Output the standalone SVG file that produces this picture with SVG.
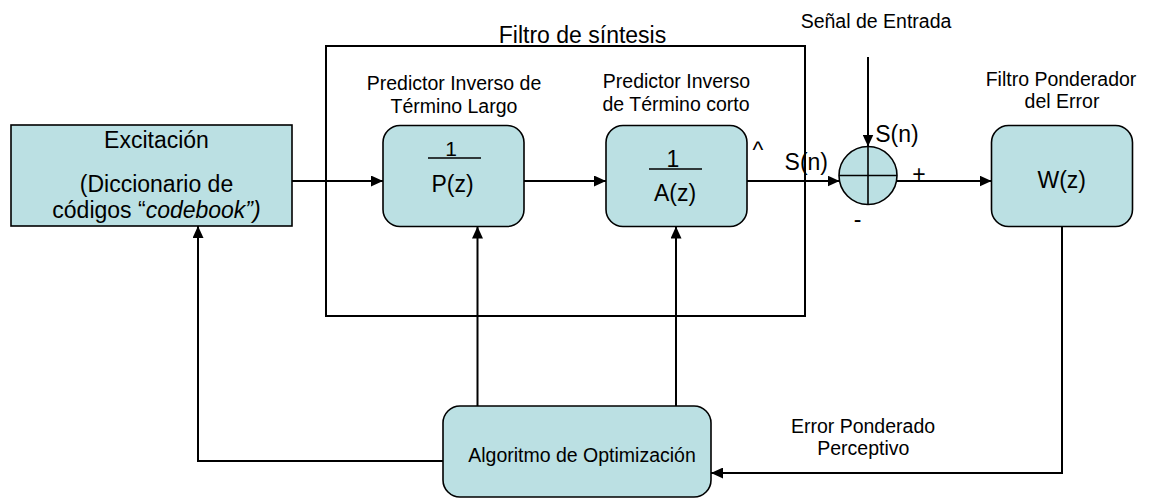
<svg xmlns="http://www.w3.org/2000/svg" width="1153" height="502" viewBox="0 0 1153 502">
<style>
  text { font-family: "Liberation Sans", Arial, sans-serif; fill: #000; text-anchor: middle; }
  .big { font-size: 23px; }
  .lbl { font-size: 19.5px; }
  .box { fill: #BBE0E3; stroke: #000; stroke-width: 1.6; }
  .frame { fill: none; stroke: #000; stroke-width: 2; }
  .conn { fill: none; stroke: #000; stroke-width: 2; marker-end: url(#arrow); }
  .line { fill: none; stroke: #000; stroke-width: 1.6; }
</style>
<defs>
  <marker id="arrow" markerUnits="userSpaceOnUse" markerWidth="12" markerHeight="11" refX="12" refY="5.5" orient="auto">
    <path d="M0,0 L12,5.5 L0,11 z" fill="#000"/>
  </marker>
</defs>
<rect width="1153" height="502" fill="#fff"/>

<g id="filtro-sintesis">
  <rect class="frame" x="326" y="46" width="479" height="270"/>
  <text class="big" x="582.5" y="43">Filtro de síntesis</text>
</g>

<g id="excitacion">
  <rect class="box" x="11" y="125" width="281" height="101"/>
  <text class="big" x="156.5" y="148">Excitación</text>
  <text class="big" x="156.5" y="192">(Diccionario de</text>
  <text class="big" x="156.5" y="218">códigos “<tspan font-style="italic">codebook”)</tspan></text>
</g>

<g id="predictor-largo">
  <text class="lbl" x="454" y="89.5">Predictor Inverso de</text>
  <text class="lbl" x="454" y="112.5">Término Largo</text>
  <rect class="box" x="383" y="125.5" width="141" height="101" rx="17"/>
  <text x="451" y="156" font-size="21">1</text>
  <line class="line" x1="428" y1="158" x2="481" y2="158"/>
  <text class="big" x="452.5" y="192">P(z)</text>
</g>

<g id="predictor-corto">
  <text class="lbl" x="676.5" y="88">Predictor Inverso</text>
  <text class="lbl" x="676" y="110.5">de Término corto</text>
  <rect class="box" x="606" y="125.5" width="141" height="101" rx="17"/>
  <text class="big" x="673" y="167">1</text>
  <line class="line" x1="649" y1="169" x2="702" y2="169"/>
  <text class="big" x="675" y="201">A(z)</text>
</g>

<g id="sumador">
  <circle class="box" cx="868" cy="175.5" r="29"/>
  <line class="line" x1="839" y1="175.5" x2="897" y2="175.5"/>
  <line class="line" x1="868" y1="146.5" x2="868" y2="204.5"/>
  <text class="big" x="857.5" y="227">-</text>
  <text class="big" x="919" y="181.5">+</text>
</g>

<g id="senal-entrada">
  <text class="lbl" x="876" y="28.3">Señal de Entrada</text>
  <text class="big" x="897" y="141.7">S(n)</text>
</g>

<g id="salida-sintesis">
  <text class="big" x="758" y="158">^</text>
  <text class="big" x="806.3" y="170">S(n)</text>
</g>

<g id="filtro-ponderador">
  <text class="lbl" x="1061" y="85.5">Filtro Ponderador</text>
  <text class="lbl" x="1062" y="108.3">del Error</text>
  <rect class="box" x="991.5" y="125.5" width="141" height="101" rx="17"/>
  <text class="big" x="1061.7" y="188.3">W(z)</text>
</g>

<g id="algoritmo">
  <rect class="box" x="443" y="406" width="268" height="91" rx="17"/>
  <text class="lbl" x="582" y="461.7">Algoritmo de Optimización</text>
</g>

<g id="error-label">
  <text class="lbl" x="863" y="433.3">Error Ponderado</text>
  <text class="lbl" x="863.3" y="455">Perceptivo</text>
</g>

<g id="connectors">
  <path class="conn" d="M292,181 H383"/>
  <path class="conn" d="M524,181 H606"/>
  <path class="conn" d="M747,181 H839.5"/>
  <path class="conn" d="M868,57 V146.5"/>
  <path class="conn" d="M896.5,181 H991.5"/>
  <path class="conn" d="M1062,226.5 V473 H711"/>
  <path class="conn" d="M477.5,406 V226.5"/>
  <path class="conn" d="M676,406 V226.5"/>
  <path class="conn" d="M443,461 H198 V226"/>
</g>
</svg>
